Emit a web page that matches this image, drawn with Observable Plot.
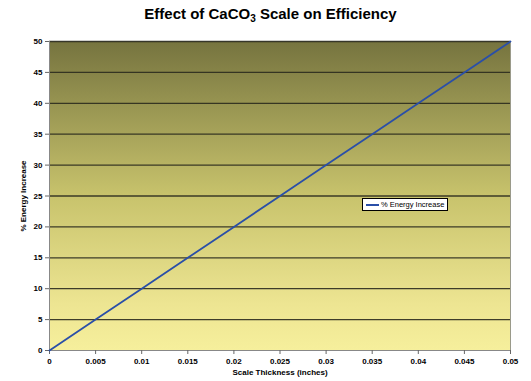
<!DOCTYPE html>
<html>
<head>
<meta charset="utf-8">
<script src="https://cdn.jsdelivr.net/npm/d3@7"></script>
<script src="https://cdn.jsdelivr.net/npm/@observablehq/plot@0.6"></script>
<style>
  body { margin: 0; background: #fff; font-family: Arial, "Liberation Sans", sans-serif; }
  #title { height: 30px; width: 531px; text-align: center; font-weight: bold; font-size: 15px; line-height: 28px; color: #000; padding-left: 10px; box-sizing: border-box; }
  #title sub { font-size: 10px; vertical-align: -3px; line-height: 0; }
  #chart { position: relative; width: 531px; }
  #legend { position: absolute; left: 362px; top: 168px; background: #fff; border: 1px solid #000; font-size: 7.5px; padding: 1px 3px 1px 3px; display: flex; align-items: center; white-space: nowrap; }
  #legend span.sw { display: inline-block; width: 13px; height: 2px; background: #2a4fa8; margin-right: 2px; }
</style>
</head>
<body>
<div id="title">Effect of CaCO<sub>3</sub> Scale on Efficiency</div>
<div id="chart"></div>
<script>
const thickness = [0, 0.005, 0.01, 0.015, 0.02, 0.025, 0.03, 0.035, 0.04, 0.045, 0.05];
const energyIncrease = [0, 5, 10, 15, 20, 25, 30, 35, 40, 45, 50];
const xTicks = [0, 0.005, 0.01, 0.015, 0.02, 0.025, 0.03, 0.035, 0.04, 0.045, 0.05];
const xTickLabels = ["0", "0.005", "0.01", "0.015", "0.02", "0.025", "0.03", "0.035", "0.04", "0.045", "0.05"];
const yTicks = [0, 5, 10, 15, 20, 25, 30, 35, 40, 45, 50];
const gridLines = [5, 10, 15, 20, 25, 30, 35, 40, 45, 50];
const seriesName = "% Energy Increase";

const data = thickness.map((x, i) => ({x, y: energyIncrease[i]}));

const gradientDefs = () => {
  const svg = d3.create("svg:g");
  const defs = svg.append("defs");
  const lg = defs.append("linearGradient").attr("id", "bgGrad").attr("x1", 0).attr("y1", 0).attr("x2", 0).attr("y2", 1);
  lg.append("stop").attr("offset", "0%").attr("stop-color", "#76743f");
  lg.append("stop").attr("offset", "50%").attr("stop-color", "#c8c36c");
  lg.append("stop").attr("offset", "85%").attr("stop-color", "#ede592");
  lg.append("stop").attr("offset", "100%").attr("stop-color", "#f6ef9c");
  return svg.node();
};

const plot = Plot.plot({
  width: 531,
  height: 351,
  marginTop: 11,
  marginBottom: 31,
  marginLeft: 49,
  marginRight: 21,
  style: {fontFamily: "Arial, 'Liberation Sans', sans-serif", fontSize: "8px", fontWeight: "bold", color: "#000", background: "#fff"},
  x: {domain: [0, 0.05], ticks: xTicks, tickFormat: (d, i) => xTickLabels[i], label: null, tickSize: 4},
  y: {domain: [0, 50], ticks: yTicks, label: null, tickSize: 4},
  marks: [
    gradientDefs,
    Plot.frame({fill: "url(#bgGrad)", stroke: "#9a9a8a"}),
    Plot.ruleY(gridLines, {stroke: "#2b2b1e", strokeWidth: 1.3, strokeOpacity: 0.9}),
    Plot.ruleX([0], {stroke: "#888"}),
    Plot.ruleY([0], {stroke: "#888"}),
    Plot.axisX({ticks: xTicks, tickFormat: (d, i) => xTickLabels[i], tickSize: 4, tickPadding: 4, stroke: "#666", fontWeight: "bold", label: "Scale Thickness (inches)", labelAnchor: "center", labelArrow: "none", labelOffset: 24}),
    Plot.axisY({ticks: yTicks, tickSize: 4, tickPadding: 3, stroke: "#666", fontWeight: "bold", label: "% Energy Increase", labelAnchor: "center", labelArrow: "none", labelOffset: 29}),
    Plot.line(data, {x: "x", y: "y", stroke: "#2a4fa8", strokeWidth: 1.8})
  ]
});
document.getElementById("chart").appendChild(plot);
const leg = document.createElement("div");
leg.id = "legend";
leg.innerHTML = '<span class="sw"></span>' + seriesName;
document.getElementById("chart").appendChild(leg);
</script>
</body>
</html>
